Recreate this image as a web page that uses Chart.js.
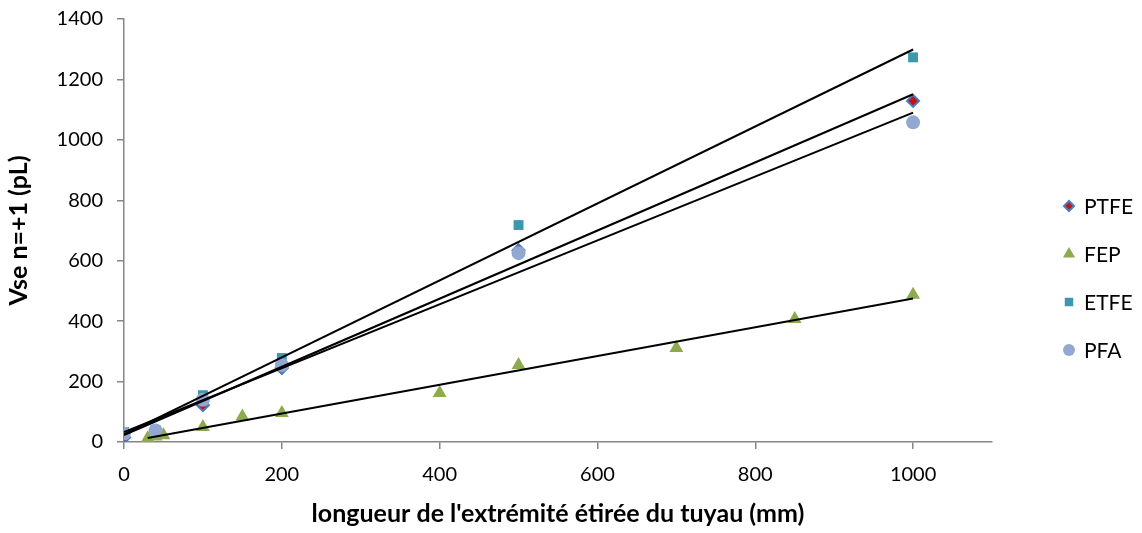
<!DOCTYPE html>
<html>
<head>
<meta charset="utf-8">
<script src="https://cdn.jsdelivr.net/npm/chart.js@4/dist/chart.umd.min.js"></script>
<style>
  html, body { margin: 0; padding: 0; background: #ffffff; }
  #wrap { width: 1142px; height: 533px; position: relative; }
</style>
</head>
<body>
<div id="wrap"><canvas id="vseChart"></canvas></div>
<script>
// Vse n=+1 vs stretched tube length - scatter with linear trendlines

const seriesNames = ['PTFE', 'FEP', 'ETFE', 'PFA'];

const ptfeX = [0, 100, 200, 500, 1000];
const ptfeY = [15, 122, 245, 635, 1129];

const fepX = [30, 40, 50, 100, 150, 200, 400, 500, 700, 850, 1000];
const fepY = [12, 18, 22, 50, 84, 96, 162, 255, 311, 407, 487];

const etfeX = [0, 40, 100, 200, 500, 1000];
const etfeY = [33, 40, 155, 278, 718, 1273];

const pfaX = [0, 40, 100, 200, 500, 1000];
const pfaY = [28, 38, 140, 255, 625, 1058];

const xTicks = [0, 200, 400, 600, 800, 1000];

const FONT = 'Lato, "Liberation Sans", sans-serif';

function toPoints(xs, ys) {
    return xs.map((x, i) => ({ x: x, y: ys[i] }));
}

// least squares fit, drawn from min x to max x like the Excel trendline
function trendline(xs, ys) {
    const n = xs.length;
    const mx = xs.reduce((a, b) => a + b, 0) / n;
    const my = ys.reduce((a, b) => a + b, 0) / n;
    let sxy = 0, sxx = 0;
    for (let i = 0; i < n; i++) {
        sxy += (xs[i] - mx) * (ys[i] - my);
        sxx += (xs[i] - mx) * (xs[i] - mx);
    }
    const slope = sxy / sxx;
    const b = my - slope * mx;
    const x0 = Math.min(...xs), x1 = Math.max(...xs);
    return [{ x: x0, y: slope * x0 + b }, { x: x1, y: slope * x1 + b }];
}

function trendDataset(xs, ys) {
    return {
        type: 'line',
        data: trendline(xs, ys),
        borderColor: '#000000',
        borderWidth: 2,
        pointRadius: 0,
        fill: false,
        order: 0
    };
}

const markerSets = [
    { label: seriesNames[0], data: toPoints(ptfeX, ptfeY), pointStyle: 'rectRot', pointRadius: 6,
      backgroundColor: '#C0141C', borderColor: '#4A7EBB', pointBorderWidth: 2, order: 4 },
    { label: seriesNames[1], data: toPoints(fepX, fepY), pointStyle: 'triangle', pointRadius: 8,
      backgroundColor: '#8DAA4F', borderColor: '#8DAA4F', pointBorderWidth: 0, order: 3 },
    { label: seriesNames[2], data: toPoints(etfeX, etfeY), pointStyle: 'rect', pointRadius: 7,
      backgroundColor: '#3E97AE', borderColor: '#3E97AE', pointBorderWidth: 0, order: 2 },
    { label: seriesNames[3], data: toPoints(pfaX, pfaY), pointStyle: 'circle', pointRadius: 7,
      backgroundColor: '#93A8D1', borderColor: '#93A8D1', pointBorderWidth: 0, order: 1 }
];

const sideLegend = {
    id: 'sideLegend',
    afterDraw(chart) {
        const ctx = chart.ctx;
        const left = 1069, top = 206, step = 48;
        ctx.save();
        markerSets.forEach((s, i) => {
            const y = top + i * step;
            ctx.fillStyle = s.backgroundColor;
            ctx.strokeStyle = s.borderColor;
            ctx.lineWidth = s.pointBorderWidth;
            Chart.helpers.drawPoint(ctx, {
                pointStyle: s.pointStyle,
                radius: s.pointRadius - 1,
                rotation: 0,
                borderWidth: s.pointBorderWidth
            }, left, y);
            ctx.fillStyle = '#000000';
            ctx.font = '21px ' + FONT;
            ctx.textBaseline = 'middle';
            ctx.textAlign = 'left';
            ctx.fillText(s.label, left + 15, y + 1);
        });
        ctx.restore();
    }
};

const datasets = [
    trendDataset(ptfeX, ptfeY),
    trendDataset(fepX, fepY),
    trendDataset(etfeX, etfeY),
    trendDataset(pfaX, pfaY)
].concat(markerSets.map(s => Object.assign({ type: 'scatter', showLine: false }, s)));

new Chart(document.getElementById('vseChart').getContext('2d'), {
    type: 'scatter',
    data: { datasets: datasets },
    options: {
        responsive: true,
        maintainAspectRatio: false,
        animation: false,
        layout: { padding: { top: 19, right: 150, left: 0, bottom: 0 } },
        plugins: {
            legend: { display: false },
            tooltip: { enabled: false }
        },
        scales: {
            x: {
                type: 'linear',
                min: 0,
                max: 1100,
                afterBuildTicks: function(scale) {
                    scale.ticks = xTicks.map(v => ({ value: v }));
                },
                afterFit: function(scale) { scale.height = 91; },
                grid: { drawOnChartArea: false, tickLength: 7, color: '#868686', lineWidth: 1.5 },
                border: { color: '#868686', width: 1.5 },
                ticks: {
                    color: '#000000', font: { family: FONT, size: 20 }, padding: 14, maxRotation: 0,
                    callback: function(value) { return String(value); }
                },
                title: {
                    display: true,
                    text: "longueur de l'extrémité étirée du tuyau (mm)",
                    color: '#000000',
                    font: { family: FONT, size: 25, weight: 'bold' },
                    padding: { top: 4 }
                }
            },
            y: {
                type: 'linear',
                min: 0,
                max: 1400,
                afterFit: function(scale) {
                    scale.width = 124;
                    scale.paddingTop = 0;
                    scale.paddingBottom = 0;
                },
                grid: { drawOnChartArea: false, tickLength: 7, color: '#868686', lineWidth: 1.5 },
                border: { color: '#868686', width: 1.5 },
                ticks: {
                    stepSize: 200, color: '#000000', font: { family: FONT, size: 20 }, padding: 14,
                    callback: function(value) { return String(value); }
                },
                title: {
                    display: true,
                    text: 'Vse n=+1 (pL)',
                    color: '#000000',
                    font: { family: FONT, size: 25, weight: 'bold' },
                    padding: { bottom: 4 }
                }
            }
        }
    },
    plugins: [sideLegend]
});
</script>
</body>
</html>
